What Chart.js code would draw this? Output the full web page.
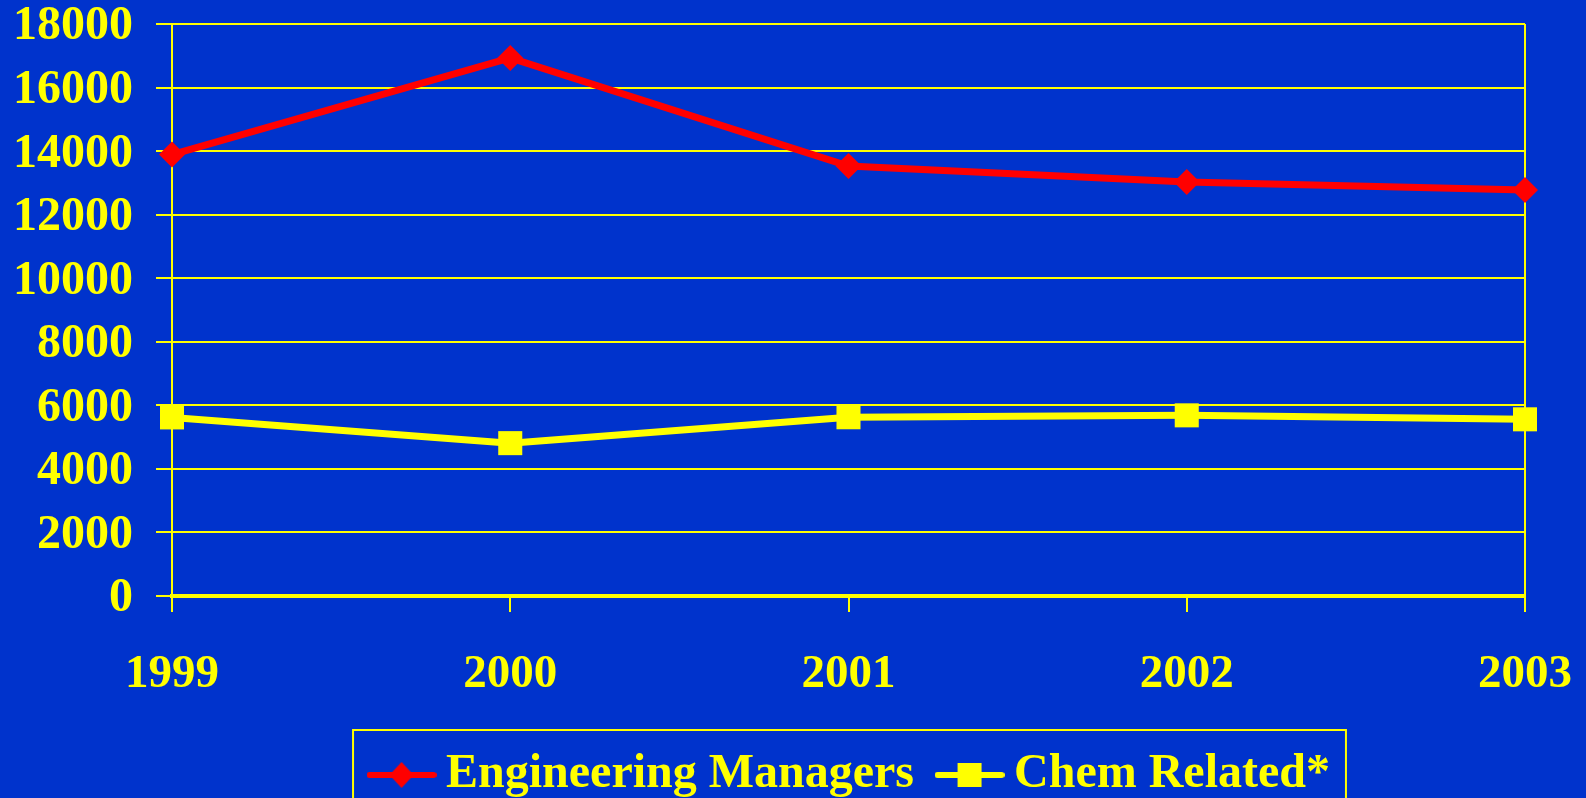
<!DOCTYPE html>
<html>
<head>
<meta charset="utf-8">
<script src="https://cdn.jsdelivr.net/npm/chart.js@4"></script>
<style>
  html, body { margin: 0; padding: 0; background: #0033cc; overflow: hidden; }
  #wrap { width: 1586px; height: 809px; }
</style>
</head>
<body>
<div id="wrap"><canvas id="salaryChart" width="1586" height="809"></canvas></div>
<script>
// values
const years = ['1999', '2000', '2001', '2002', '2003'];
const engineeringManagers = [13890, 16930, 13530, 13025, 12775];
const chemRelated = [5620, 4810, 5625, 5685, 5560];
const yTicks = [0, 2000, 4000, 6000, 8000, 10000, 12000, 14000, 16000, 18000];

const YELLOW = '#ffff00';
const RED = '#ff0000';
const FONT = "'Times New Roman', 'Liberation Serif', serif";

// legend swatch: short line with the marker in the middle
function makeSwatch(color, shape) {
    const c = document.createElement('canvas');
    c.width = 70;
    c.height = 28;
    const g = c.getContext('2d');
    g.strokeStyle = color;
    g.lineWidth = 6;
    g.lineCap = 'round';
    g.beginPath();
    g.moveTo(3, 14);
    g.lineTo(67, 14);
    g.stroke();
    g.fillStyle = color;
    g.beginPath();
    if (shape === 'diamond') {
        g.moveTo(35, 1);
        g.lineTo(47, 14);
        g.lineTo(35, 27);
        g.lineTo(23, 14);
        g.closePath();
    } else {
        g.rect(23, 2, 24, 24);
    }
    g.fill();
    return c;
}

const swatches = [makeSwatch(RED, 'diamond'), makeSwatch(YELLOW, 'square')];

// nudge the legend a little to the right, then put a yellow frame round it
const legendFrame = {
    id: 'legendFrame',
    afterLayout(chart) {
        chart.legend.left += 7;
        chart.legend.right += 7;
    },
    afterDraw(chart) {
        const boxes = chart.legend.legendHitBoxes;
        if (!boxes || !boxes.length) return;
        const last = boxes[boxes.length - 1];
        const left = boxes[0].left - 28;
        const right = last.left + last.width + 16;
        const top = boxes[0].top - 21;
        const ctx = chart.ctx;
        ctx.save();
        ctx.strokeStyle = YELLOW;
        ctx.lineWidth = 2;
        ctx.strokeRect(left, top, right - left, 200);
        ctx.restore();
    }
};

const ctx = document.getElementById('salaryChart').getContext('2d');
const salaryChart = new Chart(ctx, {
    type: 'line',
    data: {
        labels: years,
        datasets: [
            {
                label: 'Engineering Managers',
                data: engineeringManagers,
                borderColor: RED,
                backgroundColor: RED,
                borderWidth: 7,
                pointStyle: 'rectRot',
                pointRadius: 13,
                pointHoverRadius: 13,
                pointBorderWidth: 0,
                tension: 0,
                clip: false
            },
            {
                label: 'Chem Related*',
                data: chemRelated,
                borderColor: YELLOW,
                backgroundColor: YELLOW,
                borderWidth: 7,
                pointStyle: 'rect',
                pointRadius: 17,
                pointHoverRadius: 17,
                pointBorderWidth: 0,
                tension: 0,
                clip: false
            }
        ]
    },
    options: {
        responsive: false,
        animation: false,
        layout: { padding: { left: 0, right: 61, top: 24, bottom: 0 } },
        scales: {
            x: {
                offset: false,
                grid: {
                    color: c => (c.index === years.length - 1 ? YELLOW : 'rgba(0,0,0,0)'),
                    lineWidth: 2,
                    tickColor: YELLOW,
                    tickLength: 16,
                    tickWidth: 2
                },
                border: { color: YELLOW, width: 4 },
                ticks: {
                    color: YELLOW,
                    padding: 35,
                    maxRotation: 0,
                    font: { family: FONT, size: 47, weight: 'bold', lineHeight: 1.2 }
                },
                afterFit: scale => {
                    scale.height = 120;
                    scale.paddingLeft = 0;
                    scale.paddingRight = 0;
                }
            },
            y: {
                min: 0,
                max: 18000,
                afterBuildTicks: scale => { scale.ticks = yTicks.map(v => ({ value: v })); },
                grid: {
                    color: YELLOW,
                    lineWidth: 2,
                    tickLength: 16
                },
                border: { color: YELLOW, width: 2 },
                ticks: {
                    color: YELLOW,
                    padding: 23,
                    // empty first line drops the number a few px, like the slide
                    callback: v => ['', String(v)],
                    font: { family: FONT, size: 48, weight: 'bold', lineHeight: '6px' }
                },
                afterFit: scale => {
                    scale.width = 172;
                    scale.paddingTop = 0;
                    scale.paddingBottom = 0;
                }
            }
        },
        plugins: {
            tooltip: { enabled: false },
            legend: {
                position: 'bottom',
                fullSize: false,
                labels: {
                    color: YELLOW,
                    usePointStyle: true,
                    pointStyleWidth: 41,
                    padding: 35,
                    font: { family: FONT, size: 48, weight: 'bold' },
                    generateLabels: chart => chart.data.datasets.map((ds, i) => ({
                        text: ds.label,
                        fontColor: YELLOW,
                        pointStyle: swatches[i],
                        datasetIndex: i,
                        lineWidth: 0,
                        hidden: false
                    }))
                }
            }
        }
    },
    plugins: [legendFrame]
});
</script>
</body>
</html>
